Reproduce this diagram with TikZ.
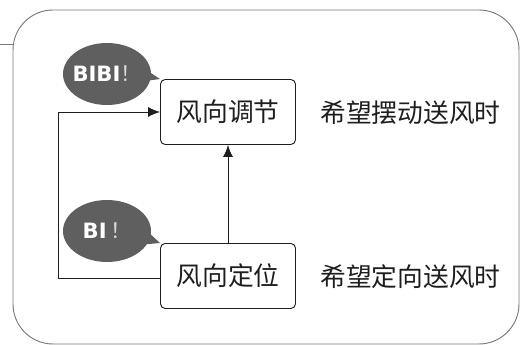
\documentclass[tikz,border=0pt]{standalone}
\usepackage{fontspec}
\setmainfont{Noto Sans CJK SC}
\newfontfamily\bubblefont{DejaVu Sans}
\newfontfamily\cjkfont{Noto Sans CJK SC}
\usepackage{xcolor}
\usepackage{tikz}
\usetikzlibrary{shapes,arrows.meta,positioning,calc}
\definecolor{framegray}{RGB}{120,120,120}
\definecolor{linegray}{RGB}{30,30,30}
\definecolor{bubblegray}{RGB}{95,95,95}

\begin{document}
\begin{tikzpicture}[x=0.03cm, y=-0.03cm,
        block/.style={rectangle, rounded corners=4pt, draw=linegray, line width=0.8pt, minimum width=135*0.03cm, minimum height=65*0.03cm, font=\fontsize{22}{24}\selectfont, text=linegray, inner sep=0pt},
        note/.style={anchor=west, font=\fontsize{22}{24}\selectfont, text=linegray, inner sep=0pt},
        bubble/.style={ellipse, fill=bubblegray, minimum width=88*0.03cm, minimum height=62*0.03cm, inner sep=-8pt, text=white, font=\bubblefont\bfseries\fontsize{18}{20}\selectfont},
        arrow/.style={-{Latex[length=12*0.03cm, width=10*0.03cm]}, line width=0.8pt, linegray}
    ]
        \useasboundingbox (0,0) rectangle (520,345);
        % outer frame
        \draw[framegray, line width=0.8pt, rounded corners=40*0.03cm] (13,10) rectangle (519,344);
        \draw[framegray, line width=0.8pt] (0,44) -- (13,44);

        \node[block] (adjust) at (228,112) {风向调节};
        \node[block] (fix) at (228,276) {风向定位};
        \node[note] (adjustnote) at (320,113) {希望摆动送风时};
        \node[note] (fixnote) at (320,277) {希望定向送风时};

        \draw[arrow] (fix.north) -- (adjust.south);
        \coordinate (loop) at (58,278);
        \draw[arrow] (fix.west |- loop) -- (loop) |- (adjust.west);

        % speech bubbles
        \node[bubble] (bibi) at (107,74) {BIBI\textcolor{white!85!black}{\cjkfont\mdseries！}};
        \fill[bubblegray] ($(bibi.center)+(30,8)$) -- (adjust.north west) -- ($(bibi.center)+(38,-5)$) -- cycle;
        \node[bubble] (bi) at (107,231) {BI\,\textcolor{white!85!black}{\cjkfont\mdseries！}};
        \fill[bubblegray] ($(bi.center)+(30,14)$) -- (fix.north west) -- ($(bi.center)+(40,0)$) -- cycle;
    \end{tikzpicture}
\end{document}
